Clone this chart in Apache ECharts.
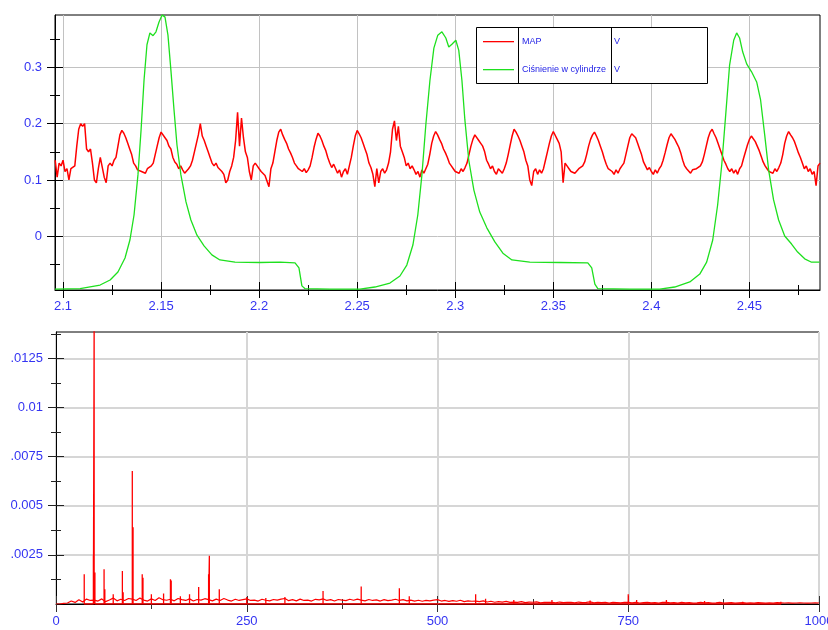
<!DOCTYPE html>
<html>
<head>
<meta charset="utf-8">
<script src="https://cdn.jsdelivr.net/npm/echarts@6/dist/echarts.min.js"></script>
<style>
  html, body { margin: 0; padding: 0; background: #fff; }
  #chart { width: 828px; height: 630px; }
</style>
</head>
<body>
<div id="chart"></div>
<script>
// ---- Time-domain record (seconds, volts) ----
// MAP sensor, sampled every 1 ms from 2.096 s
const mapStart = 2.096;
const mapStep = 0.001;
const mapValues = [
  0.135,0.105,0.13,0.125,0.135,0.115,0.12,0.10,0.12,0.12,
  0.125,0.16,0.19,0.2,0.195,0.2,0.155,0.15,0.155,0.13,
  0.10,0.095,0.12,0.14,0.14,0.105,0.095,0.125,0.13,0.125,
  0.135,0.14,0.16,0.18,0.188,0.183,0.175,0.165,0.155,0.145,
  0.13,0.125,0.118,0.12,0.115,0.118,0.112,0.12,0.118,0.125,
  0.13,0.145,0.16,0.175,0.185,0.182,0.175,0.17,0.16,0.155,
  0.14,0.132,0.128,0.12,0.125,0.118,0.112,0.115,0.12,0.125,
  0.135,0.15,0.165,0.18,0.2,0.178,0.17,0.16,0.15,0.14,
  0.13,0.125,0.13,0.122,0.125,0.115,0.11,0.095,0.1,0.115,
  0.125,0.14,0.17,0.22,0.16,0.21,0.175,0.15,0.14,0.115,
  0.1,0.125,0.13,0.125,0.12,0.115,0.112,0.108,0.105,0.088,
  0.12,0.13,0.15,0.17,0.185,0.19,0.18,0.172,0.165,0.155,
  0.148,0.14,0.13,0.125,0.12,0.118,0.115,0.12,0.113,0.118,
  0.125,0.14,0.158,0.172,0.183,0.178,0.17,0.16,0.152,0.14,
  0.13,0.122,0.128,0.12,0.112,0.118,0.105,0.115,0.12,0.11,
  0.125,0.14,0.16,0.178,0.188,0.182,0.175,0.165,0.155,0.145,
  0.13,0.122,0.11,0.088,0.12,0.095,0.115,0.12,0.112,0.118,
  0.13,0.15,0.19,0.205,0.17,0.195,0.16,0.15,0.14,0.125,
  0.13,0.12,0.125,0.118,0.11,0.115,0.105,0.118,0.112,0.12,
  0.128,0.145,0.165,0.178,0.186,0.18,0.172,0.165,0.155,0.148,
  0.14,0.13,0.125,0.12,0.115,0.118,0.112,0.12,0.115,0.122,
  0.13,0.145,0.16,0.172,0.18,0.178,0.17,0.165,0.16,0.15,
  0.135,0.128,0.12,0.125,0.115,0.11,0.12,0.118,0.112,0.12,
  0.13,0.145,0.162,0.178,0.19,0.185,0.178,0.17,0.16,0.15,
  0.135,0.125,0.1,0.09,0.115,0.12,0.11,0.118,0.112,0.12,
  0.135,0.15,0.165,0.178,0.186,0.183,0.172,0.165,0.15,0.095,
  0.13,0.125,0.12,0.115,0.118,0.112,0.115,0.12,0.118,0.125,
  0.132,0.145,0.16,0.172,0.18,0.185,0.178,0.17,0.16,0.15,
  0.138,0.128,0.12,0.118,0.115,0.11,0.118,0.112,0.12,0.125,
  0.13,0.145,0.16,0.175,0.182,0.18,0.175,0.165,0.155,0.145,
  0.132,0.125,0.118,0.122,0.115,0.11,0.118,0.112,0.12,0.125,
  0.135,0.148,0.162,0.175,0.182,0.18,0.172,0.165,0.158,0.148,
  0.135,0.125,0.12,0.118,0.112,0.118,0.115,0.12,0.118,0.125,
  0.132,0.145,0.16,0.175,0.185,0.19,0.182,0.175,0.165,0.155,
  0.145,0.135,0.128,0.12,0.115,0.12,0.112,0.118,0.11,0.12,
  0.125,0.138,0.15,0.162,0.172,0.178,0.175,0.168,0.16,0.152,
  0.142,0.132,0.125,0.12,0.115,0.118,0.112,0.12,0.115,0.122,
  0.13,0.145,0.165,0.178,0.186,0.18,0.175,0.168,0.158,0.148,
  0.14,0.13,0.12,0.125,0.115,0.12,0.11,0.115,0.09,0.125,
  0.13
];

// Cylinder pressure sensor
const pressureTimes = [
  2.0959,2.1087,2.1189,2.1240,2.1280,2.1316,2.1341,2.1362,2.1382,2.1398,
  2.1413,2.1428,2.1443,2.1459,2.1474,2.1489,2.1505,2.1520,2.1535,2.1550,
  2.1566,2.1581,2.1601,2.1627,2.1652,2.1683,2.1719,2.1759,2.1800,2.1877,
  2.2004,2.2106,2.2183,2.2203,2.2218,2.2233,2.2361,2.2514,2.2590,2.2667,
  2.2718,2.2753,2.2784,2.2809,2.2830,2.2850,2.2871,2.2891,2.2911,2.2932,
  2.2952,2.2967,2.2983,2.3003,2.3018,2.3034,2.3049,2.3069,2.3095,2.3125,
  2.3161,2.3202,2.3243,2.3289,2.3380,2.3533,2.3676,2.3696,2.3712,2.3727,
  2.3890,2.4043,2.4119,2.4196,2.4247,2.4282,2.4313,2.4338,2.4359,2.4379,
  2.4399,2.4420,2.4435,2.4450,2.4466,2.4486,2.4511,2.4537,2.4557,2.4578,
  2.4598,2.4623,2.4649,2.4680,2.4715,2.4746,2.4782,2.4817,2.4858
];
const pressureValues = [
  -0.0936,-0.0927,-0.0865,-0.0776,-0.0634,-0.0385,-0.0066,0.0378,0.109,0.189,
  0.277,0.34,0.361,0.356,0.363,0.38,0.393,0.389,0.357,0.295,
  0.224,0.162,0.109,0.061,0.029,0.002,-0.017,-0.033,-0.042,-0.046,
  -0.0465,-0.046,-0.047,-0.056,-0.088,-0.0927,-0.0936,-0.0936,-0.090,-0.083,
  -0.0705,-0.051,-0.0155,0.0378,0.109,0.198,0.277,0.334,0.357,0.363,
  0.352,0.336,0.341,0.348,0.330,0.277,0.207,0.135,0.082,0.043,
  0.015,-0.010,-0.030,-0.042,-0.046,-0.0465,-0.047,-0.056,-0.085,-0.0927,
  -0.0936,-0.0936,-0.090,-0.081,-0.067,-0.0457,-0.0066,0.0556,0.127,0.215,
  0.304,0.348,0.361,0.352,0.327,0.306,0.292,0.274,0.242,0.180,
  0.118,0.065,0.029,0.0005,-0.0137,-0.028,-0.040,-0.046,-0.046
];

// ---- MAP amplitude spectrum (Hz, volts) ----
// noise floor every 5 Hz, in units of 1e-4 V
const floorStep = 5;
const floorValues = [
  0,0,0.3,0.5,1.5,0.8,2.2,1.0,2.5,1.8,
  2.0,1.5,2.6,1.2,2.0,3.0,1.6,2.4,1.8,2.8,
  2.5,1.8,3.0,2.0,1.5,2.6,1.8,3.2,2.2,1.9,
  2.4,1.6,2.8,2.2,1.8,2.6,1.5,2.3,2.0,2.7,
  2.2,1.6,2.5,1.8,2.8,2.0,1.5,2.4,1.8,2.2,
  2.6,1.8,2.0,1.5,2.4,1.9,1.6,2.3,2.0,2.5,
  2.8,1.7,2.2,1.6,2.5,1.8,2.0,1.5,2.4,2.1,
  2.6,1.8,2.2,1.5,2.3,2.0,1.7,2.4,1.9,2.5,
  2.0,1.6,2.3,1.8,2.1,1.5,2.2,1.7,2.0,2.4,
  1.8,2.2,1.6,2.0,1.5,1.9,1.4,1.8,1.6,2.0,
  2.2,1.5,1.8,1.3,1.7,1.4,1.9,1.2,1.6,1.4,
  1.5,1.2,1.6,1.0,1.4,0.9,1.2,1.0,1.3,0.8,
  1.0,0.8,1.2,0.7,1.0,0.9,1.1,0.6,0.9,0.8,
  0.9,0.6,1.0,0.7,0.8,0.9,0.6,1.0,0.7,0.8,
  1.1,0.6,0.8,0.7,0.9,0.5,0.8,0.7,0.6,0.9,
  0.8,0.6,0.9,0.5,0.7,0.8,0.6,0.7,0.5,0.8,
  0.9,0.6,0.7,0.5,0.8,0.6,0.7,0.5,0.6,0.8,
  0.6,0.7,0.5,0.6,0.8,0.5,0.6,0.7,0.5,0.6,
  0.7,0.5,0.6,0.5,0.7,0.6,0.5,0.6,0.5,0.7,
  0.6,0.5,0.6,0.4,0.5,0.6,0.5,0.4,0.5,0.6,
  0.5
];
// spectral lines
const peakFreqs = [
  37,49,50,51,63,64,75,87,88,100,
  101,113,114,125,141,150,151,163,175,187,
  200,201,214,250,275,300,350,400,450,463,
  550,563,600,650,700,750,761,800,850,900,
  950
];
const peakAmps = [
  0.00152,0.00245,0.0145,0.0016,0.00177,0.00075,0.0005,0.00168,0.0006,0.00677,
  0.0039,0.00151,0.00134,0.0005,0.00054,0.00126,0.0012,0.0004,0.0005,0.00087,
  0.00151,0.00245,0.00075,0.00036,0.0003,0.00036,0.00066,0.00089,0.0008,0.00039,
  0.0005,0.00027,0.0002,0.0002,0.00018,0.0005,0.0002,0.0002,0.00015,0.00012,
  0.00012
];

// ---- Legend entries ----
const seriesNames = ['MAP', 'Ciśnienie w cylindrze'];
const seriesUnits = ['V', 'V'];

// ---- Axis ranges and ticks ----
const timeRange = [2.0959, 2.486];
const voltRange = [-0.0953, 0.3928];
const freqRange = [0, 1000];
const ampRange = [0, 0.01384];
const timeTicks = [2.1, 2.15, 2.2, 2.25, 2.3, 2.35, 2.4, 2.45];
const timeMinor = [2.125, 2.175, 2.225, 2.275, 2.325, 2.375, 2.425, 2.475];
const voltTicks = [0, 0.1, 0.2, 0.3];
const voltMinor = [-0.05, 0.05, 0.15, 0.25, 0.35];
const freqTicks = [0, 250, 500, 750, 1000];
const freqMinor = [125, 375, 625, 875];
const ampTicks = [0.0025, 0.005, 0.0075, 0.01, 0.0125];
const ampLabels = ['.0025', '0.005', '.0075', '0.01', '.0125'];
const ampMinor = [0.00125, 0.00375, 0.00625, 0.00875, 0.01125, 0.01375];

const RED = '#ff0000';
const GREEN = '#1ee01e';
const LABEL_BLUE = '#3434f2';
const FONT = 'Liberation Sans, Arial, sans-serif';

function mainAxis(grid, range, position, ticks, labelOpts, gridColor, gridWidth) {
  return {
    type: 'value', gridIndex: grid, min: range[0], max: range[1], position,
    splitNumber: position === 'bottom' ? 8 : 5,
    axisLine: { show: true, onZero: false, lineStyle: { color: '#000', width: 1 } },
    axisTick: { show: false, customValues: ticks },
    axisLabel: Object.assign({
      customValues: ticks, color: LABEL_BLUE, fontSize: 13, fontFamily: FONT,
      showMinLabel: true, showMaxLabel: true, hideOverlap: false
    }, labelOpts),
    splitLine: { show: true, lineStyle: { color: gridColor, width: gridWidth } },
    z: 3
  };
}

// tick-only axis: shifted inward by half the tick length so each tick crosses the axis line
function tickAxis(grid, range, position, values, len, color) {
  return {
    type: 'value', gridIndex: grid, min: range[0], max: range[1], position,
    offset: -len / 2,
    axisLine: { show: false, onZero: false },
    axisLabel: { show: false },
    splitLine: { show: false },
    axisTick: { show: true, customValues: values, length: len, inside: false,
                lineStyle: { color: color, width: 1 } },
    z: 4
  };
}

const fmtTime = v => String(Math.round(v * 1000) / 1000);
const fmtVolt = v => String(Math.round(v * 10) / 10);
const fmtFreq = v => String(Math.round(v));
const fmtAmp = v => {
  const i = ampTicks.findIndex(t => Math.abs(t - v) < 1e-9);
  return i >= 0 ? ampLabels[i] : '';
};

// each spectral line drawn as a stick from the baseline up to its amplitude
const stickData = [];
peakFreqs.forEach((f, i) => {
  stickData.push([f, 0], [f, peakAmps[i]], [f, 0]);
});

const chart = echarts.init(document.getElementById('chart'), null, { renderer: 'canvas' });

const option = {
  animation: false,
  backgroundColor: '#fff',
  grid: [
    { left: 55, top: 15, width: 765, height: 275, show: true, outerBoundsMode: 'none',
      containLabel: false, borderColor: '#000', borderWidth: 1, backgroundColor: 'transparent' },
    { left: 56, top: 332, width: 763, height: 272, show: true, outerBoundsMode: 'none',
      containLabel: false, borderColor: '#000', borderWidth: 1, backgroundColor: 'transparent' }
  ],
  xAxis: [
    mainAxis(0, timeRange, 'bottom', timeTicks, { margin: 10, formatter: fmtTime }, '#c2c2c2', 1),
    tickAxis(0, timeRange, 'bottom', timeTicks, 16, '#000'),
    tickAxis(0, timeRange, 'bottom', timeMinor, 10, '#000'),
    mainAxis(1, freqRange, 'bottom', freqTicks, { margin: 11, formatter: fmtFreq }, '#d6d6d6', 2),
    tickAxis(1, freqRange, 'bottom', freqTicks, 16, '#333'),
    tickAxis(1, freqRange, 'bottom', freqMinor, 10, '#333')
  ],
  yAxis: [
    mainAxis(0, voltRange, 'left', voltTicks, { margin: 13, formatter: fmtVolt }, '#c2c2c2', 1),
    tickAxis(0, voltRange, 'left', voltTicks, 16, '#000'),
    tickAxis(0, voltRange, 'left', voltMinor, 10, '#000'),
    mainAxis(1, ampRange, 'left', ampTicks, { margin: 13, formatter: fmtAmp }, '#d6d6d6', 2),
    tickAxis(1, ampRange, 'left', ampTicks, 16, '#222'),
    tickAxis(1, ampRange, 'left', ampMinor, 10, '#222')
  ],
  series: [
    {
      name: seriesNames[0], type: 'line', xAxisIndex: 0, yAxisIndex: 0,
      data: mapValues.map((v, i) => [mapStart + i * mapStep, v]),
      showSymbol: false, symbol: 'none', clip: true,
      lineStyle: { color: RED, width: 1.5 }, z: 5
    },
    {
      name: seriesNames[1], type: 'line', xAxisIndex: 0, yAxisIndex: 0,
      data: pressureTimes.map((t, i) => [t, pressureValues[i]]),
      showSymbol: false, symbol: 'none', clip: true,
      lineStyle: { color: GREEN, width: 1.3 }, z: 6
    },
    {
      name: 'MAP FFT', type: 'line', xAxisIndex: 3, yAxisIndex: 3,
      data: floorValues.map((v, i) => [i * floorStep, v * 1e-4]),
      showSymbol: false, symbol: 'none', clip: true,
      lineStyle: { color: RED, width: 1.2 }, z: 5
    },
    {
      name: 'MAP FFT lines', type: 'line', xAxisIndex: 3, yAxisIndex: 3,
      data: stickData,
      showSymbol: false, symbol: 'none', clip: true,
      lineStyle: { color: RED, width: 1.3 }, z: 6
    }
  ],
  graphic: [
    { type: 'rect', z: 100, shape: { x: 476.5, y: 27.5, width: 231, height: 56 },
      style: { fill: '#fff', stroke: '#000', lineWidth: 1 } },
    { type: 'line', z: 101, shape: { x1: 518.5, y1: 27.5, x2: 518.5, y2: 83.5 },
      style: { stroke: '#000', lineWidth: 1 } },
    { type: 'line', z: 101, shape: { x1: 611.5, y1: 27.5, x2: 611.5, y2: 83.5 },
      style: { stroke: '#000', lineWidth: 1 } },
    { type: 'rect', z: 101, shape: { x: 483, y: 41, width: 31, height: 1.3 },
      style: { fill: RED } },
    { type: 'rect', z: 101, shape: { x: 483, y: 69, width: 31, height: 1.3 },
      style: { fill: GREEN } },
    { type: 'text', z: 101, x: 522, y: 41.5,
      style: { text: seriesNames[0], fill: '#2424e6', font: '9px ' + FONT, verticalAlign: 'middle' } },
    { type: 'text', z: 101, x: 522, y: 69.5,
      style: { text: seriesNames[1], fill: '#2424e6', font: '9px ' + FONT, verticalAlign: 'middle' } },
    { type: 'text', z: 101, x: 614, y: 41.5,
      style: { text: seriesUnits[0], fill: '#2424e6', font: '9px ' + FONT, verticalAlign: 'middle' } },
    { type: 'text', z: 101, x: 614, y: 69.5,
      style: { text: seriesUnits[1], fill: '#2424e6', font: '9px ' + FONT, verticalAlign: 'middle' } }
  ]
};

chart.setOption(option);
</script>
</body>
</html>
